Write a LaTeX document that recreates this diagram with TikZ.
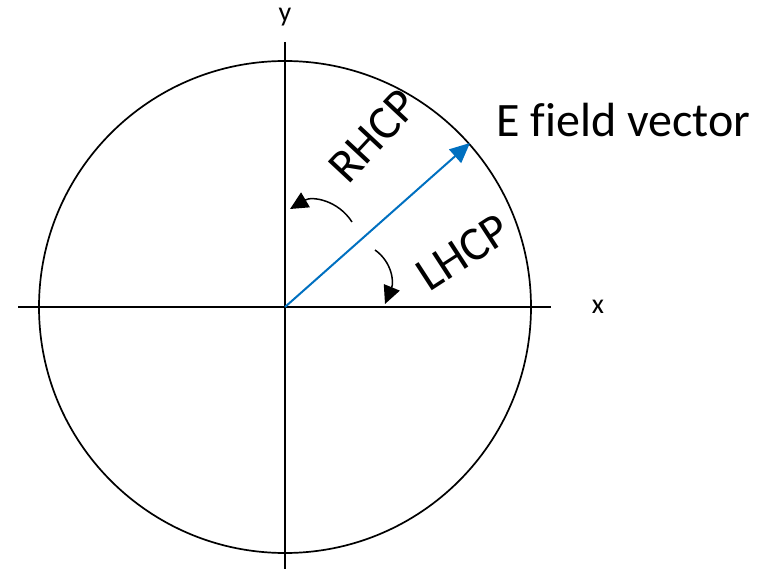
\documentclass[tikz,border=0pt]{standalone}
\usepackage{fontspec}
\setmainfont{Carlito}[Ligatures=NoCommon]
\usetikzlibrary{arrows.meta}
\definecolor{evec}{HTML}{0070C0}
\tikzset{
  axisline/.style={line width=1.8pt,black},
  rotarrow/.style={line width=1.5pt,black,-{Triangle[length=18pt,width=17pt]}},
  lbl/.style={font=\fontsize{48}{52}\selectfont,inner sep=0pt},
  axlbl/.style={font=\fontsize{28}{32}\selectfont,inner sep=0pt}
}
\begin{document}
\begin{tikzpicture}[x=1pt,y=-1pt]
\useasboundingbox (0,0) rectangle (765,569);
\coordinate (o) at (285,307);
\coordinate (xl) at (18,307);
\coordinate (xr) at (551,307);
\coordinate (yt) at (285,42);
\coordinate (yb) at (285,569);
\coordinate (etip) at (470,143);
\draw[line width=1.7pt] (o) circle[radius=246pt];
\draw[axisline] (xl) -- (xr);
\draw[axisline] (yt) -- (yb);
\draw[evec,line width=2pt,-{Triangle[length=20pt,width=18pt]}] (o) -- (etip);
\coordinate (r1) at (352,222);
\coordinate (r2) at (290,209);
\draw[rotarrow] (r1) .. controls (338,200) and (312,196) .. (r2);
\coordinate (l1) at (375,250);
\coordinate (l2) at (385,304);
\draw[rotarrow] (l1) .. controls (392,262) and (394,282) .. (l2);
\node[axlbl] (ylab) at (285,17) {y};
\node[axlbl] (xlab) at (598,307) {x};
\node[lbl,anchor=west] (elab) at (496,120) {E field vector};
\node[lbl,rotate=47] (rhcp) at (373,136) {RHCP};
\node[lbl,rotate=33] (lhcp) at (463,252) {LHCP};
\end{tikzpicture}
\end{document}
